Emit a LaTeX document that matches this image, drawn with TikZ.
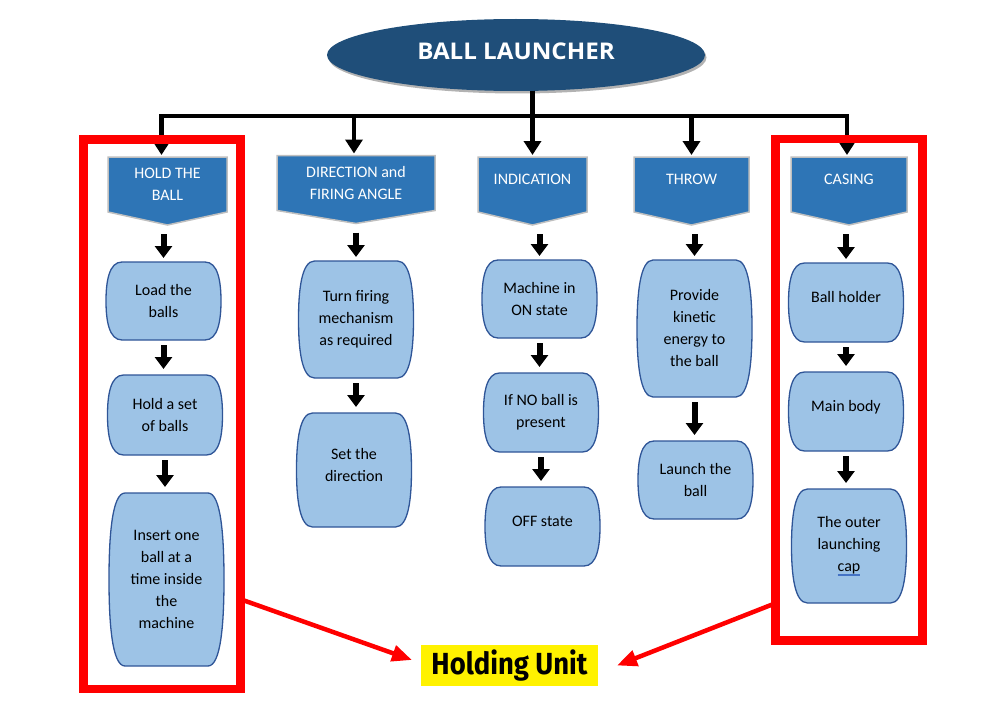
\documentclass[tikz,border=0pt]{standalone}
\usepackage{fontspec}
\setmainfont{Carlito}
\newfontfamily\titlefont[FakeStretch=1.05]{Open Sans}
\newfontfamily\holdfont[FakeStretch=0.9]{Fira Sans}
\usetikzlibrary{arrows.meta,calc,shapes.geometric,shadows,backgrounds}

\definecolor{titleblue}{HTML}{1F4E79}
\definecolor{bannerblue}{HTML}{2E75B6}
\definecolor{bannerrim}{HTML}{BFBFBF}
\definecolor{boxfill}{HTML}{9DC3E6}
\definecolor{boxrim}{HTML}{2F5597}
\definecolor{markblue}{HTML}{4472C4}

% spell-check marks under a word
\newcommand\spellmark[1]{\setbox0\hbox{#1}\rlap{\color{markblue}\rule[-3.2pt]{\wd0}{0.6pt}\hskip-\wd0\rule[-4.8pt]{\wd0}{0.6pt}}\box0}

\begin{document}
\begin{tikzpicture}[
      x=1pt, y=-1pt,
      every node/.style={outer sep=0pt, inner sep=2pt, align=center},
      head/.style={ellipse, fill=titleblue, text=white, minimum width=378pt, minimum height=72pt,
        inner sep=0pt, text depth=8pt, font=\titlefont\bfseries\fontsize{23}{26}\selectfont,
        drop shadow={shadow xshift=1.5pt, shadow yshift=-2.5pt, fill=black, opacity=0.3}},
      banner/.style={minimum height=55pt, text=white, font=\fontsize{16}{22}\selectfont},
      bannershape/.style={fill=bannerblue, draw=bannerrim, line width=1.5pt},
      proc/.style={minimum width=115pt, font=\fontsize{16}{22}\selectfont},
      boxshape/.style={fill=boxfill, draw=boxrim, line width=1.3pt},
      lifted/.style={text depth=11pt},
      feed/.style={line width=4.5pt, -{Triangle[width=17pt,length=14pt]}, shorten >=2pt},
      blk/.style={line width=6pt, -{Triangle[width=17pt,length=12pt]}},
      frame/.style={draw=red, line width=8.5pt},
      pointer/.style={red, line width=4.5pt, -{Triangle[width=16pt,length=20pt]}},
      tag/.style={fill=yellow, minimum width=177pt, minimum height=41pt, inner sep=0pt,
        font=\holdfont\bfseries\fontsize{30.5}{32}\selectfont},
    ]
      \useasboundingbox (0,0) rectangle (999,725);

      \node[head] (head) at (516,55) {BALL LAUNCHER};

      % banners
      \node[banner, minimum width=119pt] (b1) at (167.5,184.5) {HOLD THE\\BALL};
      \node[banner, minimum width=158pt] (b2) at (356,183) {DIRECTION and\\FIRING ANGLE};
      \node[banner, lifted, minimum width=109pt] (b3) at (532.5,184.5) {INDICATION};
      \node[banner, lifted, minimum width=115pt] (b4) at (691.5,184.5) {THROW};
      \node[banner, lifted, minimum width=116pt] (b5) at (849,184.5) {CASING};

      % steps
      \node[proc, minimum height=78pt] (load) at (163.5,301) {Load the\\balls};
      \node[proc, minimum height=80pt] (holdset) at (165,415) {Hold a set\\of balls};
      \node[proc, minimum height=173pt] (insert) at (166.5,579.5) {Insert one\\ball at a\\time inside\\the\\machine};

      \node[proc, minimum height=117pt] (turn) at (356,319.5) {Turn firing\\mechanism\\as required};
      \node[proc, lifted, minimum height=114pt] (setdir) at (354,470) {Set the\\direction};

      \node[proc, minimum height=78pt] (mon) at (539.5,299) {Machine in\\ON state};
      \node[proc, minimum height=79pt] (ifno) at (541,412.5) {If NO ball is\\present};
      \node[proc, lifted, minimum height=79pt] (off) at (542.5,526.5) {OFF state};

      \node[proc, minimum height=137pt] (kinetic) at (694.5,328.5) {Provide\\kinetic\\energy to\\the ball};
      \node[proc, minimum height=78pt] (launch) at (695.5,480) {Launch the\\ball};

      \node[proc, lifted, minimum height=79pt] (bholder) at (846,302.5) {Ball holder};
      \node[proc, lifted, minimum height=79pt] (mbody) at (846,411.5) {Main body};
      \node[proc, minimum height=114pt] (cap) at (849,546) {The outer\\launching\\\spellmark{cap}};

      \begin{scope}[on background layer]
        \foreach \b in {b1,b2,b3,b4,b5}
          \filldraw[bannershape] (\b.north west) -- (\b.north east) -- (\b.south east)
            -- ([yshift=-13pt]\b.south) -- (\b.south west) -- cycle;
        \foreach \n in {load,holdset,insert,turn,setdir,mon,ifno,off,kinetic,launch,bholder,mbody,cap}
          \filldraw[boxshape] ([xshift=16pt]\n.north west) -- ([xshift=-16pt]\n.north east)
            .. controls ([xshift=-3pt]\n.north east) and ($(\n.north east)!0.25!(\n.south east)$) .. (\n.east)
            .. controls ($(\n.south east)!0.25!(\n.north east)$) and ([xshift=-3pt]\n.south east) .. ([xshift=-16pt]\n.south east)
            -- ([xshift=16pt]\n.south west)
            .. controls ([xshift=3pt]\n.south west) and ($(\n.south west)!0.25!(\n.north west)$) .. (\n.west)
            .. controls ($(\n.north west)!0.25!(\n.south west)$) and ([xshift=3pt]\n.north west) .. cycle;
      \end{scope}

      % tree lines
      \foreach \b/\dx in {b1/-6,b2/-2,b3/0,b4/0,b5/-2}
        \draw[feed] (b3.north |- head.south) -- ++(0,25) -| ([xshift=\dx pt]\b.north);

      % block arrows
      \foreach \b/\n in {b1/load,b2/turn,b3/mon,b4/kinetic,b5/bholder}
        \draw[blk, shorten <=22pt, shorten >=4pt] (\n.north |- \b.south) -- (\n.north);
      \foreach \a/\n in {load/holdset,holdset/insert,turn/setdir,mon/ifno,ifno/off,kinetic/launch,bholder/mbody,mbody/cap}
        \draw[blk, shorten <=5pt, shorten >=6pt] (\a.south) -- (\a.south |- \n.north);

      % holding unit
      \node[frame, minimum width=157pt, minimum height=549.5pt] (lframe) at (162,414.25) {};
      \node[frame, minimum width=147pt, minimum height=501.5pt] (rframe) at (849,389.75) {};
      \node[tag] (hu) at (509.5,665.5) {Holding Unit};
      \draw[pointer] (lframe.-67) -- ([xshift=-9pt,yshift=5.5pt]hu.west);
      \draw[pointer] (rframe.-109.4) -- ([xshift=19pt]hu.east);
    \end{tikzpicture}
\end{document}
